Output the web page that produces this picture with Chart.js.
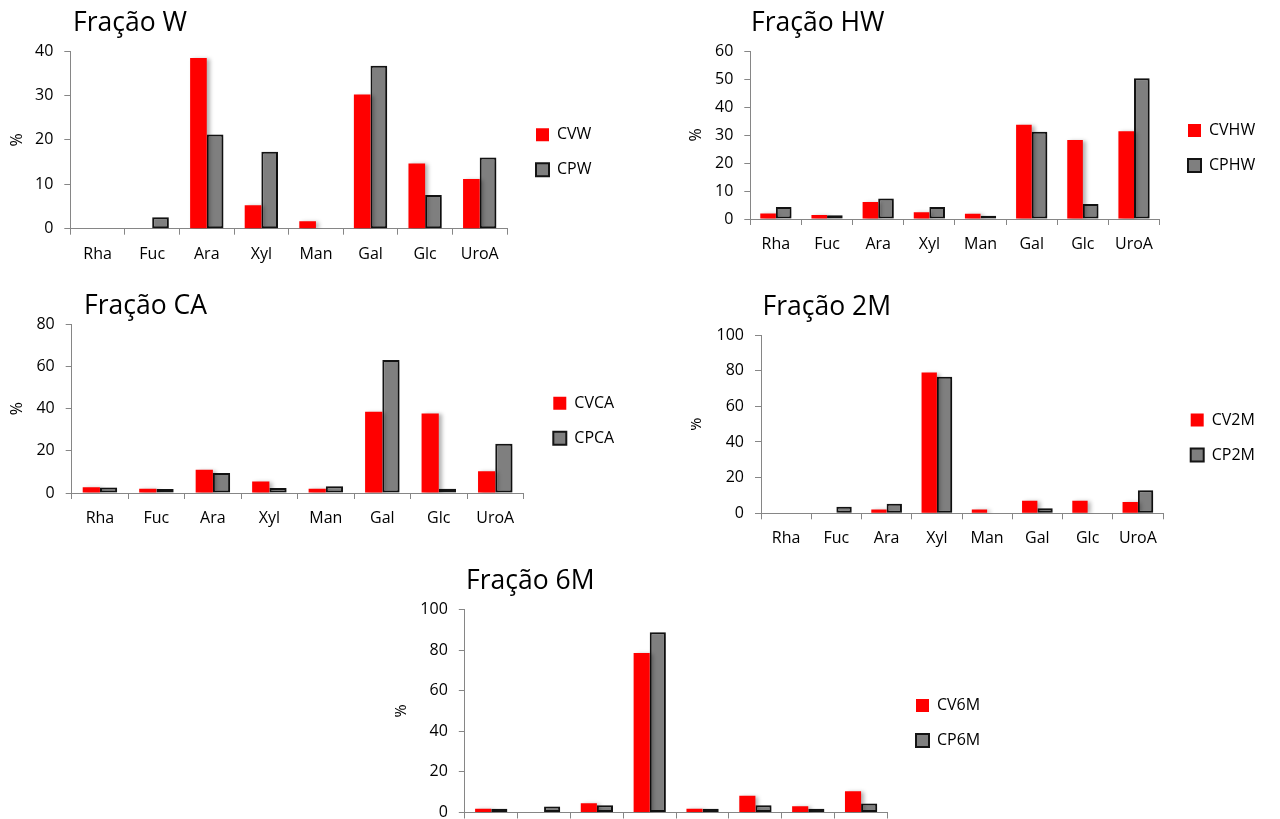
<!DOCTYPE html>
<html>
<head>
<meta charset="utf-8">
<script src="https://cdn.jsdelivr.net/npm/chart.js@4.4.1/dist/chart.umd.min.js"></script>
<style>
  html, body { margin: 0; padding: 0; background: #fff; width: 1280px; height: 819px; overflow: hidden; }
  body { position: relative; }
  .panel { position: absolute; }
</style>
</head>
<body>
<div class="panel" id="pW"><canvas id="cW"></canvas></div>
<div class="panel" id="pHW"><canvas id="cHW"></canvas></div>
<div class="panel" id="pCA"><canvas id="cCA"></canvas></div>
<div class="panel" id="p2M"><canvas id="c2M"></canvas></div>
<div class="panel" id="p6M"><canvas id="c6M"></canvas></div>
<script>
// monossacarideos (eixo x, igual em todos os graficos)
const sugars = ['Rha', 'Fuc', 'Ara', 'Xyl', 'Man', 'Gal', 'Glc', 'UroA'];

// Fração W
const cvW = [0, 0, 38.4, 5.3, 1.7, 30.2, 14.7, 11.2];
const cpW = [0, 2.6, 21.2, 17.3, 0, 36.7, 7.6, 16.0];
// Fração HW
const cvHW = [2.0, 1.4, 6.1, 2.4, 1.9, 33.7, 28.2, 31.3];
const cpHW = [4.3, 1.3, 7.3, 4.3, 1.2, 31.2, 5.4, 50.3];
// Fração CA
const cvCA = [2.7, 2.0, 11.0, 5.5, 2.0, 38.6, 37.8, 10.3];
const cpCA = [2.6, 1.9, 9.5, 2.4, 3.2, 63.1, 2.0, 23.4];
// Fração 2M
const cv2M = [0, 0, 2.2, 78.9, 2.2, 7.1, 7.1, 6.4];
const cp2M = [0, 3.7, 5.4, 76.6, 0, 2.8, 0, 12.9];
// Fração 6M
const cv6M = [1.8, 0, 4.6, 78.6, 1.8, 8.2, 3.1, 10.5];
const cp6M = [1.8, 3.0, 3.6, 88.8, 1.8, 3.6, 1.8, 4.4];

// y axis ticks: [max, step]
const yW = [40, 10];
const yHW = [60, 10];
const yCA = [80, 20];
const y2M = [100, 20];
const y6M = [100, 20];

const FONT = '"Open Sans", "DejaVu Sans", sans-serif';
const TXT = '#000';
const AXIS = '#868686';
const RED = '#ff0000';
const GREY = '#7f7f7f';
const FS = 16, BOX = 13, LEG_PAD = 35 - FS;

function textWidth(s) {
  const ctx = document.createElement('canvas').getContext('2d');
  ctx.font = 'normal ' + FS + 'px ' + FONT;
  return ctx.measureText(s).width;
}

// soft shadow behind the bars, like the old office style
const barShadow = {
  id: 'barShadow',
  beforeDatasetsDraw(chart) {
    const ctx = chart.ctx;
    ctx.save();
    ctx.shadowColor = 'rgba(0,0,0,0.3)';
    ctx.shadowBlur = 4;
    ctx.shadowOffsetX = 3;
    ctx.shadowOffsetY = 1;
  },
  afterDatasetsDraw(chart) { chart.ctx.restore(); }
};

// g = where things sit on the page (pixels)
function panel(key, title, names, cv, cp, yInfo, g) {
  const L = Math.round(g.cl - 70);
  const T = Math.round(g.titleY - 19.6);
  const yAxisW = g.cl - L;
  const tPadTop = g.titleY - T - 15.6;
  const tPadBottom = (g.ct - T) - tPadTop - 31.2;
  const m = g.legMid - T;
  const H = Math.ceil(2 * m);
  const xAxisH = 2 * m - (g.cb - T);
  const rightW = g.boxX - LEG_PAD - g.cr;
  const legLeft = g.boxX - LEG_PAD - L;
  const tw = Math.max(textWidth(names[0]), textWidth(names[1]));
  const legW = LEG_PAD + BOX + FS / 2 + tw;
  const Wc = Math.ceil(legLeft + legW + 2);
  const padRight = Wc - legLeft - legW;
  const titleDx = g.titleX - 1 - g.cl;

  const box = document.getElementById('p' + key);
  box.style.left = L + 'px';
  box.style.top = T + 'px';
  const cvs = document.getElementById('c' + key);
  cvs.width = Wc; cvs.height = H;
  cvs.style.width = Wc + 'px'; cvs.style.height = H + 'px';

  const titleShift = {
    id: 'titleShift',
    afterLayout(chart) {
      chart.titleBlock.left += titleDx;
      chart.titleBlock.right += titleDx;
    }
  };

  new Chart(cvs, {
    type: 'bar',
    data: {
      labels: sugars,
      datasets: [
        { label: names[0], data: cv, backgroundColor: RED, borderWidth: 0,
          categoryPercentage: 0.61, barPercentage: 1 },
        { label: names[1], data: cp, backgroundColor: GREY, borderColor: '#141414',
          borderWidth: 2, borderSkipped: false, categoryPercentage: 0.61, barPercentage: 1 }
      ]
    },
    options: {
      responsive: false,
      animation: false,
      layout: { padding: { left: 0, top: 0, right: padRight, bottom: H - 2 * m } },
      plugins: {
        title: {
          display: true, text: title, align: 'start', fullSize: false, color: '#000',
          font: { family: FONT, size: 26.5, weight: 'normal', lineHeight: 31.2 / 26.5 },
          padding: { top: tPadTop, bottom: tPadBottom }
        },
        legend: {
          position: 'right',
          labels: { boxWidth: BOX, boxHeight: BOX, padding: LEG_PAD, color: TXT,
                    font: { family: FONT, size: FS } }
        },
        tooltip: { enabled: false }
      },
      scales: {
        x: {
          grid: { drawOnChartArea: false, tickLength: 6, color: AXIS, offset: true },
          border: { color: AXIS, width: 1 },
          ticks: { color: TXT, font: { family: FONT, size: FS }, padding: 10, maxRotation: 0 },
          afterFit(s) { s.height = xAxisH; }
        },
        y: {
          min: 0, max: yInfo[0],
          ticks: { stepSize: yInfo[1], color: TXT, font: { family: FONT, size: FS }, padding: 11 },
          grid: { drawOnChartArea: false, tickLength: 6, color: AXIS },
          border: { color: AXIS, width: 1 },
          title: { display: true, text: '%', color: TXT, font: { family: FONT, size: FS },
                   padding: { top: g.pctX - L - 9.6, bottom: 0 } },
          afterFit(s) { s.width = yAxisW; }
        },
        gap: {
          position: 'right', display: true,
          ticks: { display: false }, grid: { display: false }, border: { display: false },
          afterFit(s) { s.width = rightW; }
        }
      }
    },
    plugins: [barShadow, titleShift]
  });
}

panel('W', 'Fração W', ['CVW', 'CPW'], cvW, cpW, yW,
  { cl: 70.3, cr: 517, ct: 51, cb: 228.7, boxX: 546, legMid: 152.3, titleX: 74, titleY: 23.3, pctX: 17 });
panel('HW', 'Fração HW', ['CVHW', 'CPHW'], cvHW, cpHW, yHW,
  { cl: 750.3, cr: 1169.6, ct: 51, cb: 219, boxX: 1198, legMid: 148, titleX: 752, titleY: 23.3, pctX: 696 });
panel('CA', 'Fração CA', ['CVCA', 'CPCA'], cvCA, cpCA, yCA,
  { cl: 71.7, cr: 533.5, ct: 324.5, cb: 493, boxX: 563.3, legMid: 420.8, titleX: 85, titleY: 306.5, pctX: 17 });
panel('2M', 'Fração 2M', ['CV2M', 'CP2M'], cv2M, cp2M, y2M,
  { cl: 761, cr: 1173, ct: 335, cb: 513.3, boxX: 1200.7, legMid: 437.5, titleX: 763.5, titleY: 307.5, pctX: 696 });
panel('6M', 'Fração 6M', ['CV6M', 'CP6M'], cv6M, cp6M, y6M,
  { cl: 464.8, cr: 897.5, ct: 609.5, cb: 812.5, boxX: 926, legMid: 723, titleX: 467, titleY: 581, pctX: 401 });
</script>
</body>
</html>
